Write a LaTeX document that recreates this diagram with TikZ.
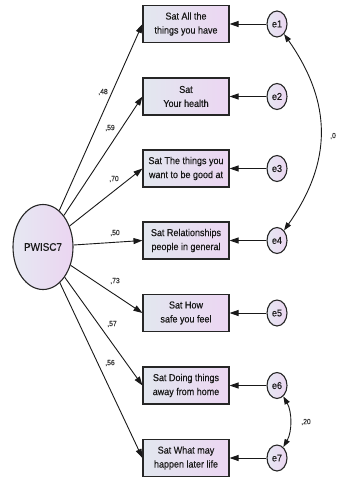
\documentclass[tikz,border=0pt]{standalone}
\usepackage{fontspec}
\setmainfont[FakeStretch=0.9,FakeBold=0.4]{Liberation Sans}
\usetikzlibrary{arrows.meta,shapes.geometric}

\definecolor{boxL}{HTML}{E2E7EF}
\definecolor{boxR}{HTML}{ECD6F2}
\definecolor{ellL}{HTML}{E6E8F2}
\definecolor{ellR}{HTML}{EBD5F1}

\tikzset{
  obs/.style={rectangle, draw=black!85, line width=1.1pt,
    minimum width=86pt, minimum height=37pt, inner sep=0pt,
    align=center, left color=boxL, right color=boxR,
    font=\fontsize{10}{14}\selectfont, text=black!90},
  err/.style={ellipse, draw=black!85, line width=1.1pt,
    minimum width=20pt, minimum height=26pt, inner sep=0pt,
    left color=ellL, right color=ellR,
    font=\fontsize{10}{12}\selectfont, text=black!90},
  latent/.style={ellipse, draw=black!85, line width=1.1pt,
    minimum width=60pt, minimum height=85pt, inner sep=0pt,
    left color=ellL, right color=ellR,
    font=\fontsize{11}{13}\selectfont, text=black!90},
  conn/.style={-{Triangle[length=9pt,width=6pt]}, line width=0.9pt, draw=black!90},
  cov/.style={{Triangle[length=8pt,width=5.5pt]}-{Triangle[length=8pt,width=5.5pt]},
    line width=0.9pt, draw=black!90},
  lab/.style={font=\fontsize{7.5}{8}\selectfont, text=black!80, inner sep=0pt}
}

\begin{document}
\begin{tikzpicture}[x=1pt,y=1pt]
  \useasboundingbox (0,0) rectangle (337,-479);

  % latent factor
  \node[latent] (P) at (43,-247) {PWISC7};

  % observed indicators
  \node[obs] (b1) at (186,-24)   {Sat All the\\things you have};
  \node[obs] (b2) at (186,-96.5) {Sat\\Your health};
  \node[obs] (b3) at (186,-168.5){Sat The things you\\want to be good at};
  \node[obs] (b4) at (186,-240.5){Sat Relationships\\people in general};
  \node[obs] (b5) at (186,-313)  {Sat How\\safe you feel};
  \node[obs] (b6) at (186,-385.5){Sat Doing things\\away from home};
  \node[obs] (b7) at (186,-458)  {Sat What may\\happen later life};

  % error terms
  \node[err] (e1) at (277,-24)    {e1};
  \node[err] (e2) at (277,-96.5)  {e2};
  \node[err] (e3) at (277,-168.5) {e3};
  \node[err] (e4) at (277,-240.5) {e4};
  \node[err] (e5) at (277,-313)   {e5};
  \node[err] (e6) at (277,-385.5) {e6};
  \node[err] (e7) at (277,-458)   {e7};

  % loadings
  \foreach \i in {1,...,7} {
    \draw[conn] (P) -- (b\i.west);
    \draw[conn] (e\i) -- (b\i.east);
  }

  % covariances
  \draw[cov] (e1) to[out=-55,in=55,looseness=1.1] (e4);
  \draw[cov] (e6) to[out=-60,in=60,looseness=0.9] (e7);

  % loading estimates
  \node[lab] (l1) at (103,-92)  {,48};
  \node[lab] (l2) at (110,-128) {,59};
  \node[lab] (l3) at (114,-179) {,70};
  \node[lab] (l4) at (115,-233) {,50};
  \node[lab] (l5) at (115,-281) {,73};
  \node[lab] (l6) at (112,-324) {,57};
  \node[lab] (l7) at (110,-363) {,56};

  % covariance estimates
  \node[lab, anchor=west] (c14) at (330,-136) {,0};
  \node[lab] (c67) at (306,-422) {,20};
\end{tikzpicture}
\end{document}
